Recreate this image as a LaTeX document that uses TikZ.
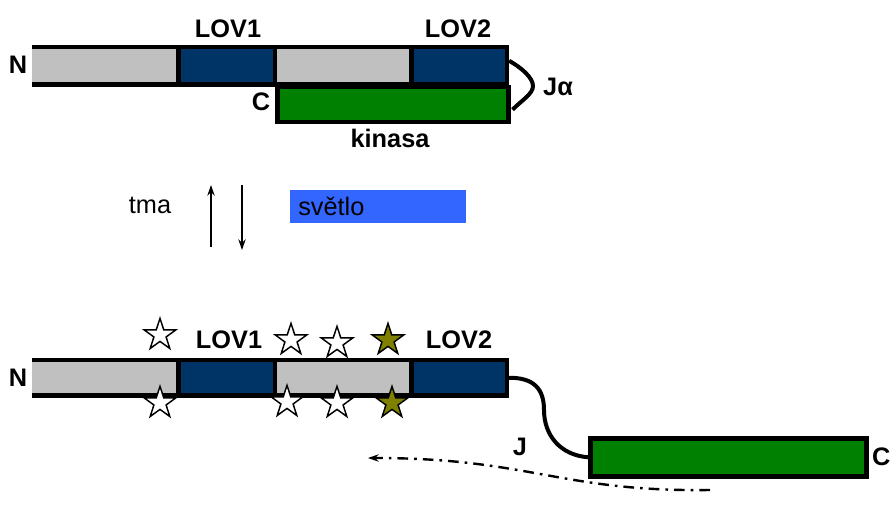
\documentclass[tikz,border=0pt]{standalone}
\usepackage{fontspec}
\setmainfont{Liberation Sans}
\usepackage{xcolor}
\usepackage{tikz}
\usetikzlibrary{arrows.meta,positioning,shapes.geometric}
\tikzset{>={Stealth[length=8pt,width=5.5pt]}}
\definecolor{segGray}{HTML}{C0C0C0}
\definecolor{lovBlue}{HTML}{003366}
\definecolor{kinGreen}{HTML}{008000}
\definecolor{starOlive}{HTML}{808000}
\definecolor{lightBlue}{HTML}{3366FF}

\begin{document}
\begin{tikzpicture}[x=0.75pt, y=-0.75pt,
                    seg/.style={rectangle, inner sep=0pt, minimum height=27.75pt},
                    outline/.style={line width=3.4pt, draw=black},
                    link/.style={line width=3pt, draw=black},
                    lbl/.style={font=\fontsize{19}{22}\selectfont\bfseries, inner sep=0pt},
                    txt/.style={font=\fontsize{19}{22}\selectfont, inner sep=0pt},
                    wstar/.style={star, star points=5, star point ratio=2.6, minimum size=25pt,
                                  inner sep=0pt, draw=black, line width=1.1pt, fill=white},
                    ostar/.style={wstar, fill=starOlive},
                   ]

\useasboundingbox (0,0) rectangle (893,511);

% dark state
\node[seg, fill=segGray, minimum width=109.5pt, anchor=north west] (g1) at (32,47) {};
\node[seg, fill=lovBlue, minimum width=72pt, right=0pt of g1] (l1) {};
\node[seg, fill=segGray, minimum width=102pt, right=0pt of l1] (g2) {};
\node[seg, fill=lovBlue, minimum width=71.25pt, right=0pt of g2] (l2) {};
\node[seg, fill=kinGreen, outline, minimum width=173.25pt, minimum height=26.25pt,
      anchor=north west] (kin) at (l1.south east) {};

\draw[outline] (g1.south west) -- (l2.south east) -- (l2.north east) -- (g1.north west);
\draw[outline] (g1.north east) -- (g1.south east);
\draw[outline] (l1.north east) -- (l1.south east);
\draw[outline] (g2.north east) -- (g2.south east);

\draw[link] ([xshift=1.5pt,yshift=3.75pt]l2.east) .. controls (522,68) and (533,78) .. (533,86)
            .. controls (533,94) and (522,100) .. ([xshift=1.5pt,yshift=-4pt]kin.east);

\node[lbl] (nTop) at (18,65) {N};
\node[lbl] (cTop) at (261,102) {C};
\node[lbl] (lov1Top) at (228,29) {LOV1};
\node[lbl] (lov2Top) at (458,29) {LOV2};
\node[lbl] (kinTop) at (390,138) {kinasa};
\node[lbl] (jaTop) at (558,87) {Jα};

% switch
\node[txt] (dark) at (150,205) {tma};
\coordinate (upS) at (211,247);
\coordinate (upE) at (211,185);
\coordinate (downS) at (242,185);
\coordinate (downE) at (242,250);
\draw[->, line width=1.1pt] (upS) -- (upE);
\draw[->, line width=1.1pt] (downS) -- (downE);
\node[txt, fill=lightBlue, anchor=north west, minimum width=132pt, minimum height=24.75pt,
      text width=120pt, inner xsep=6pt, align=left] (light) at (290,190) {světlo};

% lit state
\node[seg, fill=segGray, minimum width=109.5pt, minimum height=26.25pt, anchor=north west] (g1b) at (32,360) {};
\node[seg, fill=lovBlue, minimum width=72pt, minimum height=26.25pt, right=0pt of g1b] (l1b) {};
\node[seg, fill=segGray, minimum width=102pt, minimum height=26.25pt, right=0pt of l1b] (g2b) {};
\node[seg, fill=lovBlue, minimum width=71.25pt, minimum height=26.25pt, right=0pt of g2b] (l2b) {};

\draw[outline] (g1b.south west) -- (l2b.south east) -- (l2b.north east) -- (g1b.north west);
\draw[outline] (g1b.north east) -- (g1b.south east);
\draw[outline] (l1b.north east) -- (l1b.south east);
\draw[outline] (g2b.north east) -- (g2b.south east);

\node[seg, fill=kinGreen, outline, minimum width=207pt, minimum height=28.5pt,
      anchor=north west] (kinb) at (588,436) {};

\draw[link] (l2b.east) .. controls (535,377) and (544,390) .. (544,410)
            .. controls (544,435) and (560,455) .. (kinb.west);

\node[wstar] (s1) at (160,335) {};
\node[wstar] (s2) at (291,340) {};
\node[wstar] (s3) at (337,343) {};
\node[ostar] (s4) at (388,340) {};
\node[wstar] (s5) at (160,403) {};
\node[wstar] (s6) at (287,402) {};
\node[wstar] (s7) at (337,403) {};
\node[ostar] (s8) at (392,403) {};

\node[lbl] (nBot) at (18,378) {N};
\node[lbl, right=2.5pt of kinb] (cBot) {C};
\node[lbl] (lov1Bot) at (229,340) {LOV1};
\node[lbl] (lov2Bot) at (459,340) {LOV2};
\node[lbl] (jBot) at (520,447) {J};

\coordinate (dFrom) at (710,490);
\coordinate (dTo) at (368,458);
\draw[->, line width=1.8pt, dash pattern=on 8pt off 4.5pt on 2pt off 4.5pt]
     (dFrom) .. controls (560,492) and (530,458) .. (dTo);

\end{tikzpicture}
\end{document}
